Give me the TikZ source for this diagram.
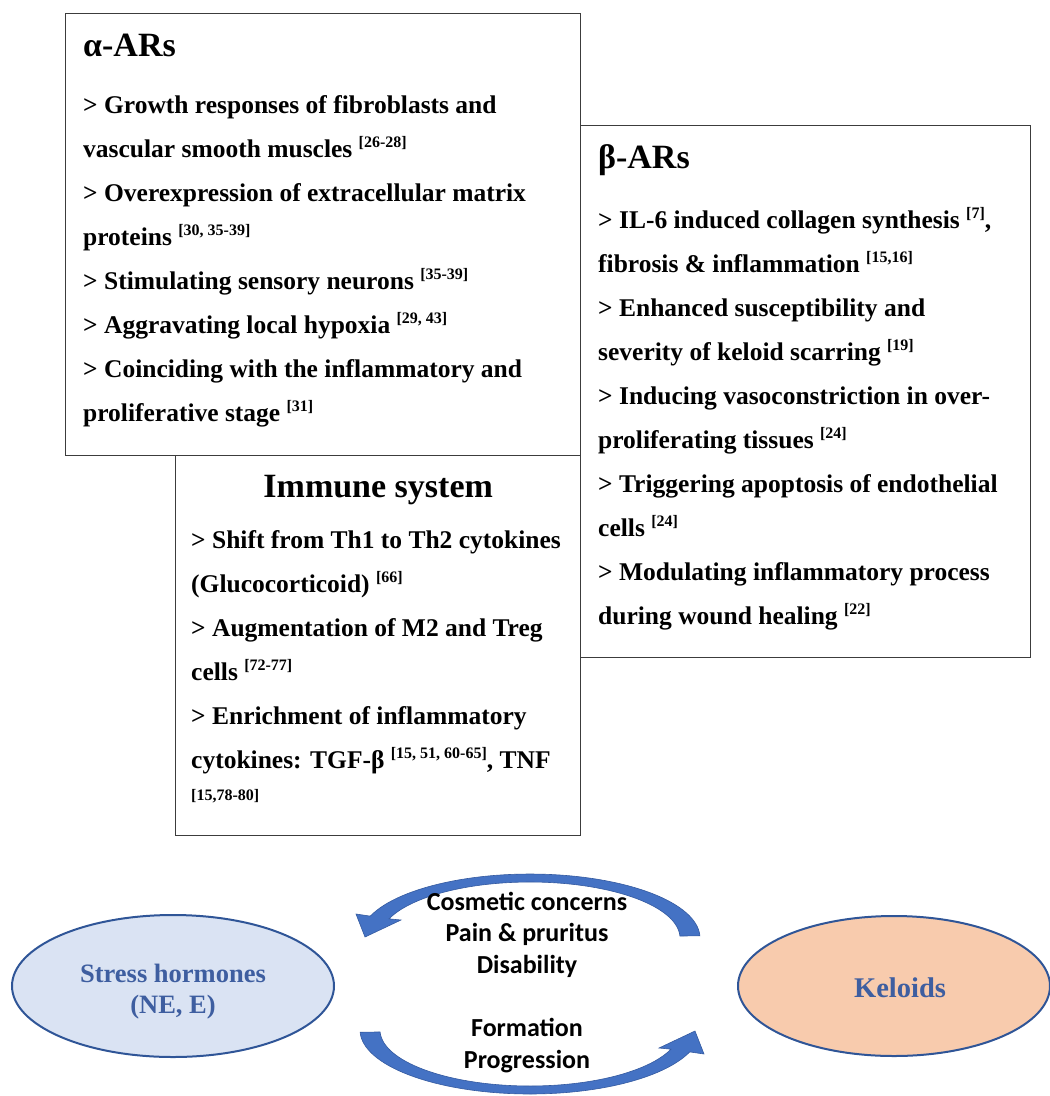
\documentclass[tikz,border=0pt]{standalone}
\usepackage{fontspec}
\setmainfont{Liberation Serif}
\newfontfamily\calibri{Carlito}
\usetikzlibrary{shapes.geometric,calc}

\definecolor{boxgray}{RGB}{60,60,60}
\definecolor{bandblue}{RGB}{68,114,196}
\definecolor{bandedge}{RGB}{52,90,160}
\definecolor{hormfill}{RGB}{218,227,243}
\definecolor{keloidfill}{RGB}{248,203,173}
\definecolor{ringblue}{RGB}{47,85,151}
\definecolor{labelblue}{RGB}{62,94,160}

% reference numbers, raised and small
\newcommand{\refs}[1]{\raisebox{10pt}{\fontsize{16}{16}\selectfont[#1]}}

\begin{document}
\begin{tikzpicture}[x=1pt, y=-1pt,
    box/.style={draw=boxgray, line width=1.4pt, inner sep=0pt, anchor=north west},
    heading/.style={font=\fontsize{34}{40}\selectfont\bfseries, inner sep=0pt, anchor=base west},
    itemtext/.style={font=\fontsize{25.5}{44}\selectfont\bfseries, align=left, inner sep=0pt, anchor=base west},
    blob/.style={ellipse, draw=ringblue, line width=2pt},
    blobtext/.style={text=labelblue, align=center, anchor=base, inner sep=0pt, font=\fontsize{26.5}{31}\selectfont\bfseries},
    effect/.style={font=\calibri\bfseries\fontsize{26}{31.5}\selectfont, align=center, anchor=base, inner sep=0pt},
    band/.style={fill=bandblue, draw=bandedge, line width=0.6pt}]
    \useasboundingbox (0,0) rectangle (1050,1096);

    % the three boxes
    \node[box, minimum width=515pt, minimum height=442pt] (alphabox) at (65,13) {};
    \node[box, minimum width=450pt, minimum height=532pt] (betabox) at (580,125) {};
    \node[box, minimum width=405pt, minimum height=380pt] (immunebox) at (175,455) {};

    % alpha receptors (list is placed by its last line)
    \node[heading] (alphatitle) at ([shift={(18,43)}]alphabox.north west) {α-ARs};
    \node[itemtext] (alphalist) at ([shift={(18,408)}]alphabox.north west)
        {> Growth responses of fibroblasts and\\
         vascular smooth muscles \refs{26-28}\\
         > Overexpression of extracellular matrix\\
         proteins \refs{30, 35-39}\\
         > Stimulating sensory neurons \refs{35-39}\\
         > Aggravating local hypoxia \refs{29, 43}\\
         > Coinciding with the inflammatory and\\
         proliferative stage \refs{31}};

    % beta receptors
    \node[heading] (betatitle) at ([shift={(18,43)}]betabox.north west) {β-ARs};
    \node[itemtext] (betalist) at ([shift={(18,499)}]betabox.north west)
        {> IL-6 induced collagen synthesis \refs{7},\\
         fibrosis \& inflammation \refs{15,16}\\
         > Enhanced susceptibility and\\
         severity of keloid scarring \refs{19}\\
         > Inducing vasoconstriction in over-\\
         proliferating tissues \refs{24}\\
         > Triggering apoptosis of endothelial\\
         cells \refs{24}\\
         > Modulating inflammatory process\\
         during wound healing \refs{22}};

    % immune system
    \node[heading, anchor=base] (immunetitle) at ([shift={(0,42)}]immunebox.north) {Immune system};
    \node[itemtext] (immunelist) at ([shift={(16,313)}]immunebox.north west)
        {> Shift from Th1 to Th2 cytokines\\
         (Glucocorticoid) \refs{66}\\
         > Augmentation of M2 and Treg\\
         cells \refs{72-77}\\
         > Enrichment of inflammatory\\
         cytokines: TGF-β \refs{15, 51, 60-65}, TNF};
    \node[anchor=base west, inner sep=0pt, font=\fontsize{16}{16}\selectfont\bfseries] (immunerefs)
        at ([shift={(16,345)}]immunebox.north west) {[15,78-80]};

    % curved arrows between the ellipses
    \path[band] plot[domain=358:200, samples=60] ({530+170*cos(\x)},{938+64*sin(\x)})
        -- (356,914) -- (365,937) -- (401,920)
        -- plot[domain=200:358, samples=60] ({530+150*cos(\x)},{938+56*sin(\x)}) -- cycle;
    \path[band, rotate around={180:(530,984)}] plot[domain=358:200, samples=60] ({530+170*cos(\x)},{938+64*sin(\x)})
        -- (356,914) -- (365,937) -- (401,920)
        -- plot[domain=200:358, samples=60] ({530+150*cos(\x)},{938+56*sin(\x)}) -- cycle;

    % stress hormones and keloids
    \node[blob, fill=hormfill, minimum width=322pt, minimum height=142pt] (hormones) at (173,986) {};
    \node[blobtext] (hormlabel) at (173,1013) {Stress hormones\\(NE, E)};
    \node[blob, fill=keloidfill, minimum width=312pt, minimum height=140pt] (keloids) at (894,986) {};
    \node[blobtext, font=\fontsize{28.5}{34}\selectfont\bfseries] (keloidlabel) at (900,997) {Keloids};

    \node[effect] (concerns) at (527,973) {Cosmetic concerns\\Pain \& pruritus\\Disability};
    \node[effect] (course) at (527,1068) {Formation\\Progression};
\end{tikzpicture}
\end{document}
